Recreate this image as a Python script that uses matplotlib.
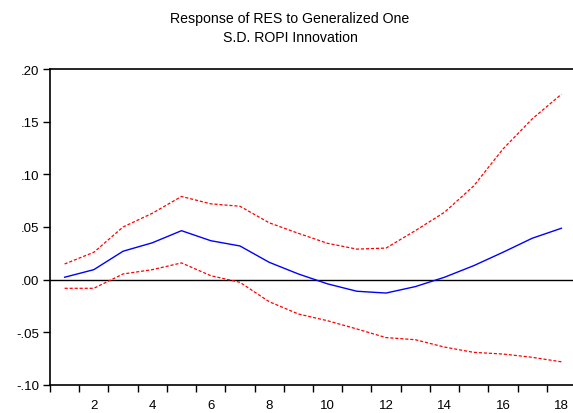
import matplotlib

matplotlib.use("Agg")
import matplotlib.pyplot as plt
from matplotlib.ticker import FixedLocator, FuncFormatter

plt.rcParams["font.family"] = ["Liberation Sans", "DejaVu Sans"]

periods = list(range(1, 19))
response = [0.0023, 0.0095, 0.027, 0.035, 0.0465, 0.037, 0.032, 0.0165, 0.0054,
            -0.004, -0.011, -0.0127, -0.0066, 0.0023, 0.0133, 0.026, 0.0393, 0.0488]
upper = [0.0149, 0.026, 0.050, 0.063, 0.079, 0.072, 0.0697, 0.054, 0.044,
         0.0345, 0.029, 0.030, 0.0465, 0.064, 0.089, 0.124, 0.1526, 0.176]
lower = [-0.0082, -0.0082, 0.0054, 0.0095, 0.0159, 0.0038, -0.0025, -0.0209, -0.0326,
         -0.039, -0.0468, -0.055, -0.057, -0.064, -0.069, -0.0706, -0.0737, -0.078]
y_ticks = [-0.10, -0.05, 0.00, 0.05, 0.10, 0.15, 0.20]
x_labels = [2, 4, 6, 8, 10, 12, 14, 16, 18]

fig = plt.figure(figsize=(5.73, 4.14), dpi=100)
ax = fig.add_axes([50 / 573, 1 - 386 / 414, 526 / 573, 316 / 414])

ax.axhline(0, color="black", linewidth=1.0, zorder=1)
ax.plot(periods, upper, color="red", linestyle=(0, (2.5, 1.5)), linewidth=0.9)
ax.plot(periods, lower, color="red", linestyle=(0, (2.5, 1.5)), linewidth=0.9)
ax.plot(periods, response, color="blue", linewidth=1.0)

ax.set_xlim(0.5, 18.5)
ax.set_ylim(-0.10, 0.20)

ax.xaxis.set_major_locator(FixedLocator(x_labels))
ax.xaxis.set_minor_locator(FixedLocator([p + 0.5 for p in range(0, 19)]))
ax.tick_params(axis="x", which="major", length=0, pad=10, labelsize=9.5)
ax.tick_params(axis="x", which="minor", length=5, width=1.0, direction="out")

ax.yaxis.set_major_locator(FixedLocator(y_ticks))
ax.yaxis.set_major_formatter(FuncFormatter(
    lambda v, _: ("%.2f" % v).replace("0.", ".") if abs(v) > 1e-9 else ".00"))
ax.tick_params(axis="y", length=5, width=1.0, direction="out", labelsize=9.5, pad=3)

for s in ax.spines.values():
    s.set_linewidth(1.2)

fig.text(290 / 573, 1 - 19 / 414, "Response of RES to Generalized One",
         ha="center", va="center", fontsize=10.2)
fig.text(290 / 573, 1 - 38 / 414, "S.D. ROPI Innovation",
         ha="center", va="center", fontsize=10.2)

fig.savefig("out.png", dpi=100)
